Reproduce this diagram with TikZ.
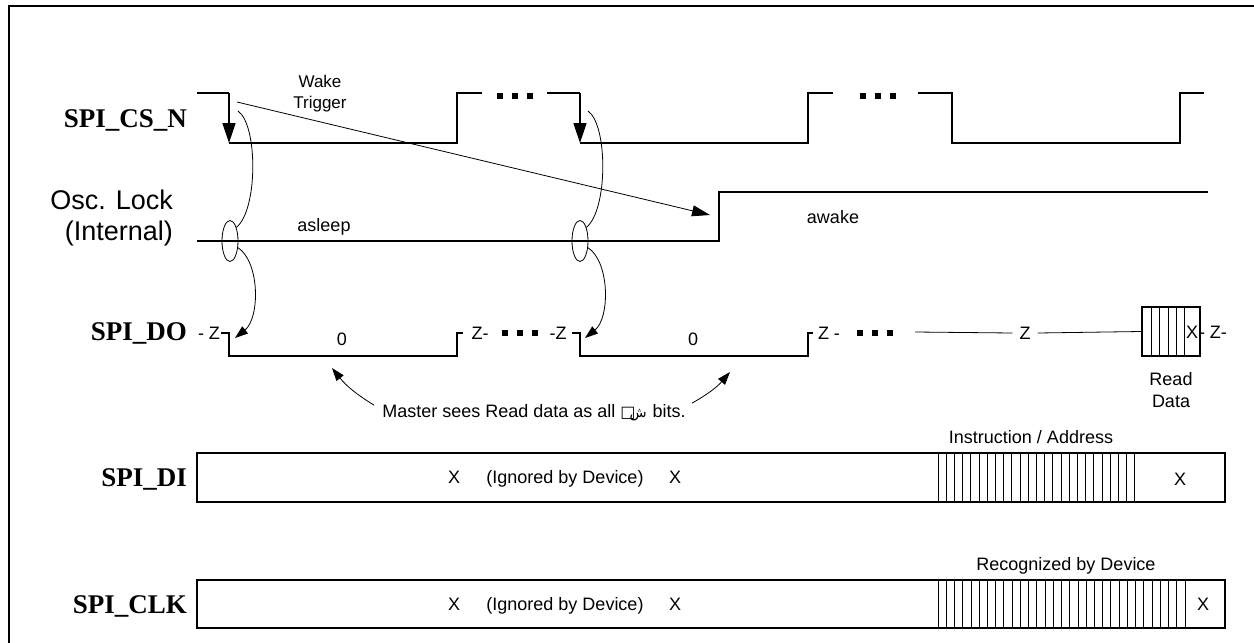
\documentclass[tikz,border=0pt]{standalone}
\usepackage{fontspec}
\setmainfont{Liberation Sans}
\newfontfamily\timesfont{Liberation Serif}
\newfontfamily\dejavu{DejaVu Sans}
\newfontfamily\arabicfont[Script=Arabic]{DejaVu Sans}
\usepackage{tikz}
\usetikzlibrary{positioning}
\usetikzlibrary{shapes.geometric}
\usetikzlibrary{arrows.meta}

\begin{document}
\begin{tikzpicture}[x=1pt,y=-1pt,
  sig/.style = {font=\timesfont\bfseries\fontsize{27}{30}\selectfont,
  anchor=base east,inner sep=0pt},
  big/.style = {font=\fontsize{27}{31}\selectfont,inner sep=0pt,align=right,
  anchor=base east},
  txt/.style = {font=\fontsize{18}{22}\selectfont,inner sep=0pt,align=center},
  wave/.style = {line width=1.5pt},
  thin/.style = {line width=0.8pt},
  edgearr/.style = {wave,-{Triangle[length=20pt,width=13pt]}},
  wakearr/.style = {thin,-{Triangle[length=18pt,width=11pt]}},
  curvarr/.style = {thin,-{Triangle[length=13pt,width=9pt]}},
  lock/.style = {draw,thin,ellipse,minimum width=16pt,minimum height=41pt,
  inner sep=0pt}]
 \useasboundingbox (0,0) rectangle (1254,643);
 \draw[line width=2.2pt] (9,643) -- (9,6) -- (1254,6);

 % signal names
 \node[sig] (cs)  at (187,127) {SPI\_CS\_N};
 \node[big] (osc) at (173,240) {Osc. Lock\\(Internal)};
 \node[sig] (do)  at (187,340) {SPI\_DO};
 \node[sig] (di)  at (187,486) {SPI\_DI};
 \node[sig] (clk) at (187,613) {SPI\_CLK};

 % SPI_CS_N
 \draw[wave] (197,93) -- (229,93);
 \draw[edgearr] (229,93) -- (229,143);
 \draw[wave] (229,143) -- (457,143) -- (457,93) -- (482,93);
 \draw[wave] (547,93) -- (580,93);
 \draw[edgearr] (580,93) -- (580,143);
 \draw[wave] (580,143) -- (808,143) -- (808,93) -- (833,93);
 \draw[wave] (918,93) -- (952,93) -- (952,143) -- (1180,143) -- (1180,93) -- (1204,93);
 \foreach \x in {500,515,530,863,878,893}
  \fill (\x-3,93) rectangle ++(6,6);
 \node[txt,font=\fontsize{17}{21}\selectfont] (wake) at (320,94) {Wake\\Trigger};

 % Osc. Lock
 \draw[wave] (197,241) -- (719,241) -- (719,192) -- (1208,192);
 \node[txt,anchor=base] (asleep) at (324,231) {asleep};
 \node[txt,anchor=base] (awake) at (833,223) {awake};
 \node[lock] (lk1) at (230,241) {};
 \node[lock] (lk2) at (580,241) {};
 \coordinate (wk0) at (237,102);
 \coordinate (wk1) at (710,215);
 \draw[wakearr] (wk0) -- (wk1);

 % SPI_DO
 \node[txt] (z1) at (209,333) {- Z};
 \draw[wave] (221,333) -- (229,333) -- (229,356) -- (457,356) -- (457,333) -- (463,333);
 \node[txt] (z2) at (480,333) {Z-};
 \node[txt] (z3) at (558,333) {-Z};
 \draw[wave] (572,333) -- (580,333) -- (580,356) -- (808,356) -- (808,333) -- (813,333);
 \node[txt] (z4) at (829,333) {Z -};
 \foreach \x in {505,520,535,860,875,890}
  \fill (\x-3,330) rectangle ++(6,6);
 \node[txt,inner xsep=7pt] (z5) at (1025,333) {Z};
 \node[draw,wave,minimum width=58pt,minimum height=49pt,inner sep=0pt]
  (rd) at (1171,331.5) {};
 \draw[thin] (915,332) -- (z5.west);
 \draw[thin] (z5.east) -- (rd.west);
 \foreach \x in {1151,1159,1168,1176,1184}
  \draw[thin] (\x,307) -- (\x,356);
 \node[txt] (rx) at (1192,332) {X};
 \node[txt] (z6) at (1213,332) {- Z-};
 \node[txt,below=16pt of rd] (rdtxt) {Read\\Data};
 \node[txt] (zero1) at (342,339) {0};
 \node[txt] (zero2) at (693,339) {0};

 % wake arcs
 \coordinate (cs1) at (238,111);
 \coordinate (cs2) at (588,111);
 \coordinate (do1) at (235,338);
 \coordinate (do2) at (585,338);
 \draw[thin] (cs1) .. controls (258,125) and (258,210) .. (lk1.65);
 \draw[curvarr] (lk1.-40) .. controls (260,262) and (260,318) .. (do1);
 \draw[thin] (cs2) .. controls (608,125) and (608,210) .. (lk2.65);
 \draw[curvarr] (lk2.-40) .. controls (610,262) and (610,318) .. (do2);

 \node[txt,anchor=base] (mst) at (534,417)
  {Master sees Read data as all {\dejavu\fontsize{16}{16}\selectfont □}\kern-6pt{\arabicfont\fontsize{14}{14}\selectfont ش}\kern1pt{} bits.};
 \coordinate (m1) at (332,368);
 \coordinate (m2) at (730,372);
 \draw[curvarr] ([xshift=-8pt,yshift=7pt]mst.west) to[bend left=10] (m1);
 \draw[curvarr] ([xshift=6pt,yshift=9pt]mst.east) to[bend right=10] (m2);

 % SPI_DI
 \draw[wave] (197,453) rectangle (1225,502);
 \foreach \i in {0,...,24}
  \draw[thin] ({938+\i*8.2},453) -- ++(0,49);
 \node[txt,anchor=base] (dx1) at (454,483) {X};
 \node[txt,anchor=base] (dign) at (565,483) {(Ignored by Device)};
 \node[txt,anchor=base] (dx2) at (675,483) {X};
 \node[txt,anchor=base] (dx3) at (1180,485) {X};
 \node[txt,anchor=base] (instr) at (1031,443) {Instruction / Address};

 % SPI_CLK
 \draw[wave] (197,580) rectangle (1225,628);
 \foreach \i in {0,...,30}
  \draw[thin] ({938+\i*8.23},580) -- ++(0,48);
 \node[txt,anchor=base] (cx1) at (454,610) {X};
 \node[txt,anchor=base] (cign) at (565,610) {(Ignored by Device)};
 \node[txt,anchor=base] (cx2) at (675,610) {X};
 \node[txt,anchor=base] (cx3) at (1203,610) {X};
 \node[txt,anchor=base] (recog) at (1066,570) {Recognized by Device};
\end{tikzpicture}
\end{document}
